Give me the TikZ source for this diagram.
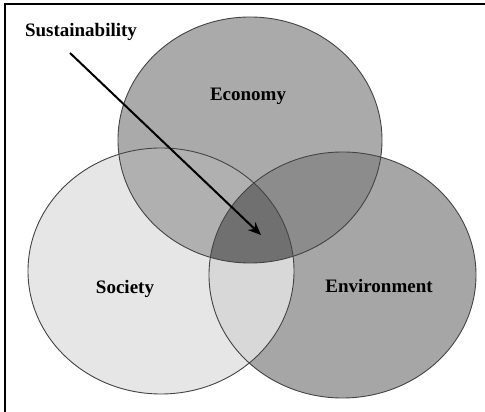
\documentclass[tikz,border=0pt]{standalone}
\usepackage{fontspec}
\setmainfont{Liberation Serif}
\usetikzlibrary{arrows.meta}
\definecolor{socC}{HTML}{E6E6E6}
\definecolor{ecoC}{HTML}{AAAAAA}
\definecolor{envC}{HTML}{A6A6A6}
\definecolor{esC}{HTML}{B0B0B0}
\definecolor{eeC}{HTML}{8C8C8C}
\definecolor{seC}{HTML}{D8D8D8}
\definecolor{allC}{HTML}{707070}
\definecolor{edgeC}{HTML}{444444}
\tikzset{
  lbl/.style={font=\fontsize{19}{22}\selectfont\bfseries, text=black, inner sep=0pt},
  rim/.style={draw=edgeC, line width=0.9pt},
  frameline/.style={line width=2pt, black}
}
\def\ecoPath{(250pt,272pt) ellipse [x radius=132pt, y radius=123pt]}
\def\socPath{(161pt,141pt) ellipse [x radius=133pt, y radius=123pt]}
\def\envPath{(342.5pt,137pt) ellipse [x radius=133.5pt, y radius=123pt]}
\begin{document}
\begin{tikzpicture}[x=1pt,y=1pt]
\useasboundingbox (0,0) rectangle (485,412);
\fill[white] (0,0) rectangle (485,412);
% base fills
\fill[ecoC] \ecoPath;
\fill[socC] \socPath;
\fill[envC] \envPath;
% pairwise overlaps
\begin{scope}
  \clip \ecoPath;
  \fill[esC] \socPath;
  \fill[eeC] \envPath;
\end{scope}
\begin{scope}
  \clip \socPath;
  \fill[seC] \envPath;
  \clip \envPath;
  \fill[allC] \ecoPath;
\end{scope}
% outlines
\draw[rim] \ecoPath;
\draw[rim] \socPath;
\draw[rim] \envPath;
% frame (top and left only)
\coordinate (ftl) at (5,408);
\coordinate (ftr) at (485,408);
\coordinate (fbl) at (5,0);
\draw[frameline] (ftr) -- (ftl) -- (fbl);
% labels
\node[lbl] (sust) at (81,380) {Sustainability};
\node[lbl] (eco) at (248,316) {Economy};
\node[lbl] (soc) at (125,123) {Society};
\node[lbl] (env) at (379,126) {Environment};
% arrow
\coordinate (astart) at (70,359);
\coordinate (aend) at (261,177);
\draw[line width=2pt, -{Stealth[length=13pt,width=11pt]}] (astart) -- (aend);
\end{tikzpicture}
\end{document}
